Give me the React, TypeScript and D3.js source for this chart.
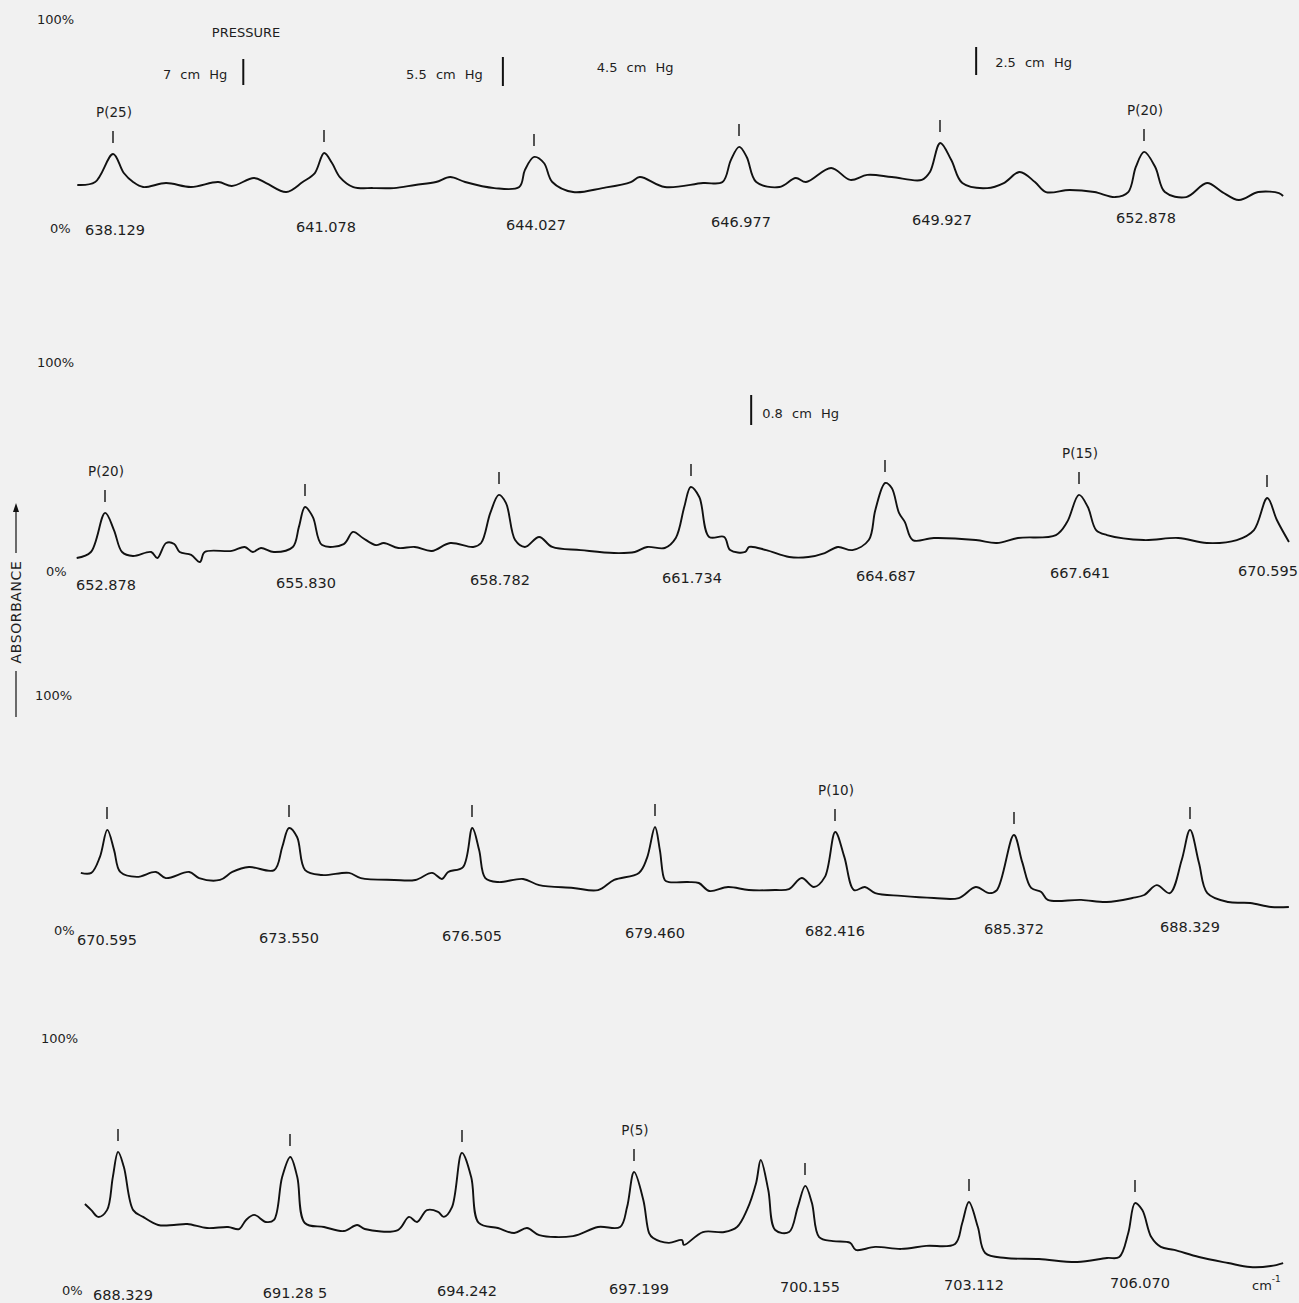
import React from "react";
import * as d3 from "d3";

// ---------------- DATA ----------------
// Marked P-branch line positions (cm^-1) for each strip
const strip1Lines = [638.129, 641.078, 644.027, 646.977, 649.927, 652.878];
const strip2Lines = [652.878, 655.83, 658.782, 661.734, 664.687, 667.641, 670.595];
const strip3Lines = [670.595, 673.55, 676.505, 679.46, 682.416, 685.372, 688.329];
const strip4Lines = [688.329, 691.285, 694.242, 697.199, 700.155, 703.112, 706.07];

// Tick labels printed under each strip
const strip1Labels = ["638.129", "641.078", "644.027", "646.977", "649.927", "652.878"];
const strip2Labels = ["652.878", "655.830", "658.782", "661.734", "664.687", "667.641", "670.595"];
const strip3Labels = ["670.595", "673.550", "676.505", "679.460", "682.416", "685.372", "688.329"];
const strip4Labels = ["688.329", "691.28 5", "694.242", "697.199", "700.155", "703.112", "706.070"];

// Line designations written above marks
const strip1Bands = ["P(25)", "", "", "", "", "P(20)"];
const strip2Bands = ["P(20)", "", "", "", "", "P(15)", ""];
const strip3Bands = ["", "", "", "", "P(10)", "", ""];
const strip4Bands = ["", "", "", "P(5)", "", "", ""];

// Pressure annotations [cm^-1 position]
const pressureText = ["7 cm Hg", "5.5 cm Hg", "4.5 cm Hg", "2.5 cm Hg", "0.8 cm Hg"];
const pressureAt = [639.95, 643.59, 644.93, 650.45, 662.65];
const pressureStrip = [0, 0, 0, 0, 1];

// Absorbance traces: [wavenumber cm^-1, absorbance %]
const strip1Trace: [number, number][] = [
  [637.63, 20.6], [637.88, 22.0], [638.13, 35.4], [638.28, 26.3], [638.41, 22.0], [638.55, 19.6],
  [638.87, 21.5], [639.22, 19.6], [639.6, 22.0], [639.79, 20.1], [640.1, 23.9], [640.27, 21.5],
  [640.55, 17.2], [640.78, 22.0], [640.95, 26.3], [641.08, 35.9], [641.19, 31.1], [641.3, 24.4],
  [641.49, 19.6], [641.77, 19.1], [642.06, 19.1], [642.36, 20.6], [642.65, 22.0], [642.85, 24.4],
  [643.06, 22.0], [643.47, 19.1], [643.82, 19.6], [643.9, 27.8], [644.03, 34.0], [644.17, 31.1],
  [644.29, 22.0], [644.59, 17.2], [645.01, 19.1], [645.42, 22.0], [645.55, 24.4], [645.91, 19.6],
  [646.46, 21.5], [646.74, 22.0], [646.86, 32.5], [646.98, 38.8], [647.09, 34.0], [647.23, 22.0],
  [647.57, 19.6], [647.81, 23.9], [647.96, 22.0], [648.33, 28.7], [648.61, 23.0], [648.86, 25.4],
  [649.22, 24.4], [649.66, 23.0], [649.78, 26.8], [649.93, 40.7], [650.09, 32.5], [650.25, 21.5],
  [650.61, 19.1], [650.85, 21.5], [651.08, 26.8], [651.3, 22.0], [651.46, 17.2], [651.8, 18.2],
  [652.16, 17.2], [652.46, 14.8], [652.65, 17.2], [652.76, 29.2], [652.88, 36.4], [653.04, 29.2],
  [653.18, 17.2], [653.49, 14.8], [653.79, 21.5], [654.01, 17.2], [654.25, 13.4], [654.53, 17.2],
  [654.83, 16.7], [654.89, 15.3],
];

const strip2Trace: [number, number][] = [
  [652.46, 6.2], [652.67, 9.1], [652.88, 27.8], [653.01, 19.6], [653.13, 9.1], [653.29, 7.2],
  [653.56, 9.1], [653.65, 6.2], [653.78, 13.4], [653.9, 12.9], [653.98, 9.1], [654.15, 7.7],
  [654.28, 4.3], [654.35, 9.1], [654.75, 9.6], [654.94, 11.5], [655.06, 9.1], [655.18, 11.0],
  [655.37, 9.1], [655.65, 11.5], [655.74, 21.1], [655.83, 30.6], [655.95, 25.8], [656.09, 12.4],
  [656.42, 12.9], [656.56, 18.7], [656.71, 15.8], [656.91, 12.4], [657.03, 13.4], [657.25, 11.0],
  [657.5, 11.5], [657.76, 9.6], [658.04, 13.4], [658.39, 11.5], [658.51, 13.4], [658.65, 27.8],
  [658.78, 36.4], [658.89, 32.5], [659.03, 14.8], [659.18, 11.5], [659.4, 16.3], [659.6, 11.5],
  [660.04, 10.0], [660.55, 8.6], [660.87, 9.1], [661.06, 11.5], [661.33, 11.0], [661.5, 15.8],
  [661.63, 30.6], [661.73, 40.2], [661.86, 35.4], [662.01, 16.3], [662.24, 16.3], [662.33, 10.0],
  [662.56, 9.1], [662.62, 11.5], [662.88, 10.0], [663.23, 6.7], [663.52, 6.7], [663.77, 8.6],
  [663.97, 11.5], [664.19, 10.0], [664.44, 14.8], [664.54, 29.2], [664.69, 42.1], [664.79, 39.7],
  [664.9, 27.8], [664.99, 23.4], [665.11, 14.8], [665.43, 15.8], [666.07, 14.8], [666.39, 13.4],
  [666.71, 15.8], [667.29, 17.2], [667.46, 23.4], [667.64, 36.4], [667.78, 30.6], [667.91, 19.6],
  [668.08, 17.2], [668.66, 14.8], [669.2, 15.8], [669.65, 13.4], [670.12, 14.8], [670.39, 19.6],
  [670.6, 34.9], [670.75, 24.4], [670.94, 13.9],
];

const strip3Trace: [number, number][] = [
  [670.17, 24.3], [670.34, 24.3], [670.48, 31.1], [670.6, 42.6], [670.71, 34.0], [670.81, 24.7],
  [671.08, 22.6], [671.39, 24.7], [671.55, 22.1], [671.93, 24.7], [672.09, 22.1], [672.43, 21.3],
  [672.63, 24.7], [672.9, 26.8], [673.31, 25.5], [673.44, 35.3], [673.55, 43.4], [673.68, 39.6],
  [673.81, 25.5], [674.08, 23.4], [674.52, 24.3], [674.71, 22.1], [675.25, 21.3], [675.59, 21.3],
  [675.86, 24.3], [676.02, 21.7], [676.12, 24.7], [676.36, 26.8], [676.51, 43.4], [676.62, 34.0],
  [676.72, 22.1], [676.93, 20.4], [677.33, 21.7], [677.59, 19.1], [678.14, 17.9], [678.54, 17.0],
  [678.8, 21.3], [679.2, 24.3], [679.33, 30.6], [679.46, 43.8], [679.54, 34.0], [679.62, 21.3],
  [679.69, 20.4], [680.0, 20.4], [680.18, 20.0], [680.35, 16.6], [680.66, 18.3], [681.0, 17.0],
  [681.43, 17.0], [681.66, 17.4], [681.87, 22.1], [682.07, 18.3], [682.25, 22.6], [682.42, 41.7],
  [682.57, 31.1], [682.73, 17.0], [682.91, 18.3], [683.08, 15.7], [683.51, 14.5], [684.05, 13.6],
  [684.46, 13.6], [684.74, 18.3], [684.96, 15.7], [685.09, 17.0], [685.37, 40.4], [685.51, 28.9],
  [685.66, 17.9], [685.83, 16.2], [685.94, 12.8], [686.5, 12.8], [686.93, 11.9], [687.36, 13.6],
  [687.56, 14.9], [687.77, 19.1], [687.99, 15.7], [688.19, 29.8], [688.33, 42.6], [688.48, 28.5],
  [688.62, 15.7], [688.97, 11.9], [689.34, 11.5], [689.69, 9.8], [689.99, 9.8],
];

const strip4Trace: [number, number][] = [
  [687.76, 34.1], [687.87, 31.7], [687.99, 29.0], [688.14, 31.7], [688.24, 44.8], [688.33, 54.8],
  [688.43, 48.8], [688.59, 31.7], [688.76, 29.0], [689.02, 25.8], [689.29, 25.8], [689.52, 26.2],
  [689.86, 24.6], [690.22, 25.0], [690.41, 24.2], [690.53, 27.8], [690.67, 29.8], [690.87, 27.0],
  [691.01, 27.8], [691.15, 44.8], [691.29, 52.8], [691.41, 44.8], [691.54, 26.6], [691.87, 25.0],
  [692.21, 23.4], [692.44, 25.8], [692.57, 24.2], [693.14, 23.8], [693.33, 29.0], [693.47, 27.0],
  [693.64, 31.7], [693.83, 31.0], [693.93, 29.0], [694.07, 32.9], [694.24, 54.4], [694.4, 44.8],
  [694.53, 26.6], [694.86, 24.6], [695.14, 22.6], [695.36, 24.6], [695.57, 21.8], [696.15, 21.4],
  [696.58, 25.0], [696.96, 25.0], [697.08, 32.9], [697.2, 46.8], [697.36, 35.7], [697.46, 22.6],
  [697.53, 20.6], [697.8, 18.7], [698.03, 19.8], [698.06, 17.9], [698.39, 23.0], [698.76, 23.0],
  [698.98, 25.0], [699.15, 31.7], [699.31, 42.5], [699.39, 51.6], [699.52, 39.7], [699.64, 23.8],
  [699.88, 23.0], [700.03, 32.9], [700.16, 41.3], [700.28, 34.5], [700.41, 21.0], [700.66, 19.4],
  [700.97, 18.7], [701.07, 15.9], [701.42, 17.1], [701.89, 16.3], [702.34, 17.5], [702.86, 18.3],
  [702.99, 26.6], [703.11, 34.9], [703.27, 25.0], [703.4, 14.7], [703.77, 12.7], [704.36, 12.3],
  [705.04, 11.1], [705.57, 12.7], [705.79, 13.1], [705.95, 22.6], [706.07, 34.5], [706.2, 31.7],
  [706.36, 21.0], [706.53, 17.1], [706.77, 15.9], [707.21, 13.1], [707.73, 10.7], [708.12, 9.1],
  [708.49, 9.5], [708.71, 10.7],
];

// ---------------- LAYOUT ----------------
const W = 1299;
const H = 1303;
const FONT = "'DejaVu Sans', 'Liberation Sans', sans-serif";
const INK = "#111111";
const TEXT = "#1e1e1e";
const PAPER = "#f1f1f1";
const TILT = -0.012; // slight slant of the scanned lettering rows

const STRIPS = [
  { lines: strip1Lines, labels: strip1Labels, bands: strip1Bands, trace: strip1Trace,
    xRange: [113, 324, 534, 739, 940, 1144], y0: 228, y100: 19, labelY: 230, labelDx: 2, zeroX: 50, hundredX: 37 },
  { lines: strip2Lines, labels: strip2Labels, bands: strip2Bands, trace: strip2Trace,
    xRange: [105, 305, 499, 691, 885, 1079, 1267], y0: 571, y100: 362, labelY: 585, labelDx: 1, zeroX: 46, hundredX: 37 },
  { lines: strip3Lines, labels: strip3Labels, bands: strip3Bands, trace: strip3Trace,
    xRange: [107, 289, 472, 655, 835, 1014, 1190], y0: 930, y100: 695, labelY: 940, labelDx: 0, zeroX: 54, hundredX: 35 },
  { lines: strip4Lines, labels: strip4Labels, bands: strip4Bands, trace: strip4Trace,
    xRange: [118, 290, 462, 634, 805, 969, 1135], y0: 1290, y100: 1038, labelY: 1295, labelDx: 5, zeroX: 62, hundredX: 41 },
];

// pressure annotation layout: bar extent, text placement
const PRESSURE_LAYOUT = [
  { bar: [59, 85], anchor: "end", dx: -16, ty: 74 },
  { bar: [57, 86], anchor: "end", dx: -20, ty: 74 },
  { bar: null, anchor: "start", dx: 0, ty: 67 },
  { bar: [47, 75], anchor: "start", dx: 19, ty: 62 },
  { bar: [395, 425], anchor: "start", dx: 11, ty: 413 },
];

function Strip({ s }: { s: (typeof STRIPS)[number] }) {
  const x = d3.scaleLinear().domain(s.lines).range(s.xRange);
  const y = d3.scaleLinear().domain([0, 100]).range([s.y0, s.y100]);
  const path = d3
    .line<[number, number]>()
    .x((d) => x(d[0]))
    .y((d) => y(d[1]))
    .curve(d3.curveCatmullRom.alpha(0.5))(s.trace);

  const rowY = (px: number) => s.labelY + TILT * (px - 110);

  return (
    <g>
      <text x={s.hundredX} y={y(100)} dominantBaseline="central" fontSize={13} fill={TEXT}>
        100%
      </text>
      <text x={s.zeroX} y={y(0)} dominantBaseline="central" fontSize={13} fill={TEXT}>
        0%
      </text>
      <path d={path ?? ""} fill="none" stroke={INK} strokeWidth={1.9} strokeLinejoin="round" />
      {s.lines.map((w, i) => {
        const near = s.trace.filter((d) => Math.abs(d[0] - w) < 0.15);
        const peak = d3.max(near, (d) => d[1]) ?? 0;
        const py = y(peak);
        const tx = x(w);
        return (
          <g key={i}>
            <line x1={tx} x2={tx} y1={py - 23} y2={py - 11} stroke={INK} strokeWidth={1.4} />
            {s.bands[i] ? (
              <text x={tx + 1} y={py - 37} textAnchor="middle" fontSize={13.5} fill={TEXT}>
                {s.bands[i]}
              </text>
            ) : null}
            <text
              x={tx + s.labelDx}
              y={rowY(tx)}
              textAnchor="middle"
              dominantBaseline="central"
              fontSize={14.5}
              fill={TEXT}
            >
              {s.labels[i]}
            </text>
          </g>
        );
      })}
    </g>
  );
}

export default function App() {
  const xs = STRIPS.map((s) => d3.scaleLinear().domain(s.lines).range(s.xRange));
  return (
    <div style={{ position: "absolute", left: 0, top: 0 }}>
      <svg width={W} height={H} style={{ display: "block", fontFamily: FONT }}>
        <rect x={0} y={0} width={W} height={H} fill={PAPER} />
        {STRIPS.map((s, i) => (
          <Strip key={i} s={s} />
        ))}

        {/* pressure annotations */}
        <text x={246} y={32} textAnchor="middle" dominantBaseline="central" fontSize={13} fill={TEXT}>
          PRESSURE
        </text>
        {pressureText.map((t, i) => {
          const L = PRESSURE_LAYOUT[i];
          const bx = xs[pressureStrip[i]](pressureAt[i]);
          return (
            <g key={t}>
              {L.bar ? (
                <line x1={bx} x2={bx} y1={L.bar[0]} y2={L.bar[1]} stroke={INK} strokeWidth={2} />
              ) : null}
              <text
                x={bx + L.dx}
                y={L.ty}
                textAnchor={L.anchor as any}
                dominantBaseline="central"
                fontSize={13}
                wordSpacing={5}
                fill={TEXT}
              >
                {t}
              </text>
            </g>
          );
        })}

        {/* units */}
        <text x={1252} y={1285} dominantBaseline="central" fontSize={13} fill={TEXT}>
          cm
          <tspan dy={-6} fontSize={9}>
            -1
          </tspan>
        </text>

        {/* ordinate title */}
        <line x1={16} x2={16} y1={553} y2={509} stroke={INK} strokeWidth={1.2} />
        <path d="M16,503 L13,512 L19,512 Z" fill={INK} />
        <line x1={16} x2={16} y1={671} y2={717} stroke={INK} strokeWidth={1.2} />
        <text
          transform="translate(16,612) rotate(-90)"
          textAnchor="middle"
          dominantBaseline="central"
          fontSize={14}
          letterSpacing={0.6}
          fill={TEXT}
        >
          ABSORBANCE
        </text>
      </svg>
    </div>
  );
}
